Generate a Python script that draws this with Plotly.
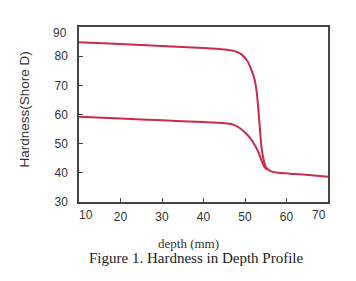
import plotly.graph_objects as go

# Data
upper_x = [10, 20, 30, 40, 45, 47, 49, 50.5, 51.5, 52.3, 52.8, 53.2, 53.6, 54.0, 54.5, 55.0, 55.5, 56.5, 58, 62, 66, 70]
upper_y = [84.8, 84.2, 83.5, 82.8, 82.3, 81.9, 80.8, 78.5, 75.5, 72, 68, 62, 55, 48.5, 44.4, 42.0, 41.2, 40.4, 40.0, 39.6, 39.2, 38.7]

lower_x = [10, 20, 30, 40, 45, 47, 48.8, 50, 51.3, 52.3, 53.2, 54.1, 54.9, 55.5]
lower_y = [59.2, 58.6, 58.0, 57.4, 57.0, 56.6, 55.3, 53.8, 51.8, 49.6, 47.2, 43.8, 41.6, 41.0]

x_ticks = [20, 30, 40, 50, 60]
y_ticks = [30, 40, 50, 60, 70, 80]
x_edge_labels = [10, 70]
y_edge_labels = [90]

x_title = "depth (mm)"
y_title = "Hardness(Shore D)"
caption = "Figure 1. Hardness in Depth Profile"

line_color = "#cc2a48"
axis_color = "#444444"
text_color = "#333333"
sans = "Liberation Sans, Arial, sans-serif"
serif = "Liberation Serif, Times New Roman, serif"

fig = go.Figure()
for xs, ys in [(upper_x, upper_y), (lower_x, lower_y)]:
    fig.add_trace(go.Scatter(x=xs, y=ys, mode="lines",
                             line=dict(color=line_color, width=2, shape="spline", smoothing=0.7),
                             showlegend=False, hoverinfo="skip"))

fig.update_layout(
    width=356, height=281,
    margin=dict(l=79, r=28, t=27, b=79),
    paper_bgcolor="white", plot_bgcolor="white",
    xaxis=dict(range=[10, 70], tickvals=x_ticks, ticks="inside", ticklen=4,
               tickcolor=axis_color, showline=True, linecolor=axis_color, linewidth=1.5,
               mirror=True, showgrid=False, zeroline=False,
               tickfont=dict(family=sans, size=12, color=text_color), ticklabelstandoff=3),
    yaxis=dict(range=[30, 90], tickvals=y_ticks, ticks="inside", ticklen=4,
               tickcolor=axis_color, showline=True, linecolor=axis_color, linewidth=1.5,
               mirror=True, showgrid=False, zeroline=False,
               tickfont=dict(family=sans, size=12, color=text_color), ticklabelstandoff=7),
)

annotations = []
for xv, shift in zip(x_edge_labels, [7, -9]):
    annotations.append(dict(x=xv, y=0, xref="x", yref="paper", text=str(xv), showarrow=False,
                            xanchor="center", yanchor="middle", xshift=shift, yshift=-13,
                            font=dict(family=sans, size=12, color=text_color)))
for yv in y_edge_labels:
    annotations.append(dict(x=0, y=yv, xref="paper", yref="y", text=str(yv), showarrow=False,
                            xanchor="right", yanchor="middle", xshift=-10, yshift=-6,
                            font=dict(family=sans, size=12, color=text_color)))
annotations.append(dict(x=0, y=0.5, xref="paper", yref="paper", text=y_title, showarrow=False,
                        textangle=-90, xanchor="center", yanchor="middle", xshift=-55, yshift=5,
                        font=dict(family=sans, size=13.5, color=text_color)))
annotations.append(dict(x=0.5, y=0, xref="paper", yref="paper", text=x_title, showarrow=False,
                        xanchor="center", yanchor="middle", xshift=-15, yshift=-41,
                        font=dict(family=serif, size=13, color=text_color)))
annotations.append(dict(x=0.5, y=0, xref="paper", yref="paper", text=caption, showarrow=False,
                        xanchor="center", yanchor="middle", xshift=-8, yshift=-56,
                        font=dict(family=serif, size=15, color="#222222")))
fig.update_layout(annotations=annotations)

fig.write_html("out.html")
